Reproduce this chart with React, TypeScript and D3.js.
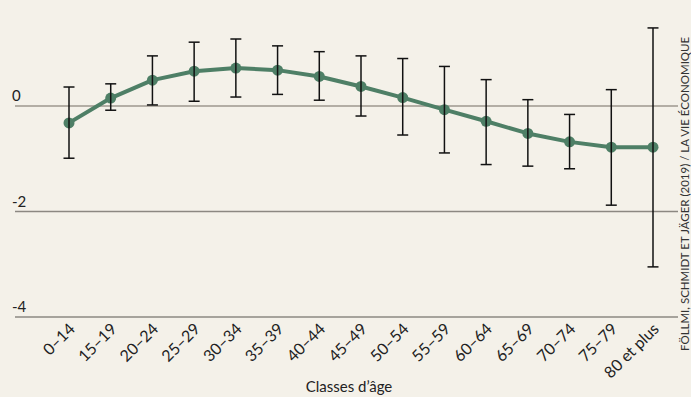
import React, { useEffect, useRef } from 'react';
import * as d3 from 'd3';

const categories = ['0–14', '15–19', '20–24', '25–29', '30–34', '35–39', '40–44', '45–49', '50–54', '55–59', '60–64', '65–69', '70–74', '75–79', '80 et plus'];
const values = [-0.32, 0.15, 0.49, 0.66, 0.72, 0.68, 0.56, 0.37, 0.16, -0.07, -0.29, -0.52, -0.68, -0.78, -0.78];
const upper = [0.36, 0.42, 0.95, 1.21, 1.27, 1.14, 1.03, 0.95, 0.90, 0.75, 0.50, 0.12, -0.16, 0.31, 1.48];
const lower = [-0.99, -0.08, 0.02, 0.09, 0.17, 0.22, 0.11, -0.19, -0.55, -0.89, -1.11, -1.14, -1.19, -1.88, -3.05];
const yTicks = [0, -2, -4];

const W = 691;
const H = 397;
const FONT = 'Lato, "Open Sans", sans-serif';

export default function App() {
  const ref = useRef<SVGSVGElement>(null);

  useEffect(() => {
    const svg = d3.select(ref.current);
    svg.selectAll('*').remove();

    svg.append('rect').attr('width', W).attr('height', H).attr('fill', '#f4f1e9');

    const x = d3.scalePoint<string>().domain(categories).range([69, 653]);
    const y = d3.scaleLinear().domain([-4, 2]).range([317, 0.5]);

    // grid lines + y labels sitting on top of them
    const grid = svg.append('g');
    yTicks.forEach((t) => {
      grid.append('line')
        .attr('x1', 15).attr('x2', 678)
        .attr('y1', y(t)).attr('y2', y(t))
        .attr('stroke', t === 0 ? '#b3aea5' : '#8c8882')
        .attr('stroke-width', t === 0 ? 2 : 1.5);
      grid.append('text')
        .attr('x', 12).attr('y', y(t) - 5)
        .attr('font-family', FONT).attr('font-size', 15).attr('fill', '#222')
        .text(t === 0 ? '0' : `-${Math.abs(t)}`);
    });

    const data = categories.map((c, i) => ({ c, v: values[i], hi: upper[i], lo: lower[i] }));

    const line = d3.line<{ c: string; v: number }>()
      .x((d) => x(d.c) as number)
      .y((d) => y(d.v));

    svg.append('path')
      .datum(data)
      .attr('d', line)
      .attr('fill', 'none')
      .attr('stroke', '#4e7f66')
      .attr('stroke-width', 4)
      .attr('stroke-linejoin', 'round');

    svg.append('g').selectAll('circle')
      .data(data)
      .enter().append('circle')
      .attr('cx', (d) => x(d.c) as number)
      .attr('cy', (d) => y(d.v))
      .attr('r', 5.5)
      .attr('fill', '#4e7f66');

    const err = svg.append('g').attr('stroke', '#111').attr('stroke-width', 1.5);
    data.forEach((d) => {
      const cx = x(d.c) as number;
      err.append('line').attr('x1', cx).attr('x2', cx).attr('y1', y(d.hi)).attr('y2', y(d.lo));
      err.append('line').attr('x1', cx - 5.5).attr('x2', cx + 5.5).attr('y1', y(d.hi)).attr('y2', y(d.hi));
      err.append('line').attr('x1', cx - 5.5).attr('x2', cx + 5.5).attr('y1', y(d.lo)).attr('y2', y(d.lo));
    });

    // x labels
    svg.append('g').selectAll('text')
      .data(categories)
      .enter().append('text')
      .attr('transform', (d) => `translate(${(x(d) as number) + 7}, 330) rotate(-45)`)
      .attr('text-anchor', 'end')
      .attr('font-family', FONT).attr('font-size', 16).attr('fill', '#222')
      .text((d) => d);

    svg.append('text')
      .attr('x', 349).attr('y', 392)
      .attr('text-anchor', 'middle')
      .attr('font-family', FONT).attr('font-size', 15).attr('fill', '#222')
      .text('Classes d’âge');

    svg.append('text')
      .attr('transform', 'translate(689, 351) rotate(-90)')
      .attr('font-family', FONT).attr('font-size', 11.5).attr('fill', '#333')
      .text('FÖLLMI, SCHMIDT ET JÄGER (2019) / LA VIE ÉCONOMIQUE');
  }, []);

  return (
    <div style={{ position: 'absolute', left: 0, top: 0 }}>
      <svg ref={ref} width={W} height={H} style={{ display: 'block' }} />
    </div>
  );
}
